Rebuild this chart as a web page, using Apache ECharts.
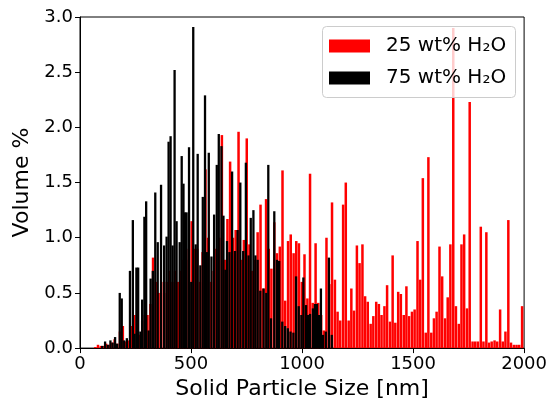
<!DOCTYPE html>
<html><head><meta charset="utf-8">
<script src="https://cdn.jsdelivr.net/npm/echarts@6/dist/echarts.min.js"></script>
<style>html,body{margin:0;padding:0;background:#fff}#c{width:550px;height:405px}</style>
</head><body><div id="c"></div>
<script>
const seriesNames = ['25 wt% H₂O', '75 wt% H₂O'];
const xTicks = [0, 500, 1000, 1500, 2000];
const yTicks = [0.0, 0.5, 1.0, 1.5, 2.0, 2.5, 3.0];

const redSizes = [69, 81, 94, 106, 118, 131, 143, 156, 168, 180, 193, 205, 218, 230, 242, 255, 267, 280, 292, 304, 317, 329, 342, 354, 366, 379, 391, 404, 416, 428, 441, 453, 466, 478, 490, 503, 515, 528, 540, 552, 565, 577, 590, 602, 614, 627, 639, 652, 664, 676, 689, 701, 714, 726, 738, 751, 763, 776, 788, 800, 813, 825, 838, 850, 862, 875, 887, 900, 912, 924, 937, 949, 962, 974, 986, 999, 1011, 1024, 1036, 1048, 1061, 1073, 1086, 1098, 1110, 1123, 1135, 1148, 1160, 1172, 1185, 1197, 1210, 1222, 1234, 1247, 1259, 1272, 1284, 1296, 1309, 1321, 1334, 1346, 1358, 1371, 1383, 1396, 1408, 1420, 1433, 1445, 1458, 1470, 1482, 1495, 1507, 1520, 1532, 1544, 1557, 1569, 1582, 1594, 1606, 1619, 1631, 1644, 1656, 1668, 1681, 1693, 1706, 1718, 1730, 1743, 1755, 1768, 1780, 1792, 1805, 1817, 1830, 1842, 1854, 1867, 1879, 1892, 1904, 1916, 1929, 1941, 1954, 1966, 1978, 1991];
const redValues = [0.01, 0.03, 0.02, 0.02, 0.04, 0.03, 0.05, 0.08, 0.04, 0.15, 0.20, 0.06, 0.07, 0.20, 0.30, 0.30, 0.12, 0.25, 0.30, 0.30, 0.40, 0.82, 0.60, 0.50, 0.60, 0.50, 0.60, 0.70, 0.60, 0.70, 0.60, 0.70, 0.80, 0.80, 0.90, 1.15, 0.90, 0.90, 0.60, 0.87, 1.62, 1.00, 0.60, 0.70, 0.90, 1.00, 1.93, 0.80, 1.17, 1.69, 1.00, 1.07, 1.96, 0.80, 0.98, 1.90, 0.94, 0.70, 0.80, 1.05, 1.30, 0.54, 1.35, 0.90, 0.72, 1.14, 0.86, 0.92, 1.61, 0.43, 0.97, 1.03, 0.86, 0.97, 0.95, 0.60, 0.85, 0.45,
  1.58, 0.41, 0.95, 0.41, 0.30, 0.16, 1.00, 0.58, 1.32, 0.62, 0.33, 0.25, 1.30, 1.50, 0.25, 0.54, 0.34, 0.93, 0.77, 0.94, 0.47, 0.42, 0.22, 0.29, 0.42, 0.40, 0.30, 0.38, 0.57, 0.24, 0.84, 0.23, 0.51, 0.49, 0.30, 0.56, 0.29, 0.33, 0.35, 0.97, 0.62, 1.54, 0.14, 1.73, 0.14, 0.27, 0.33, 0.92, 0.65, 0.27, 0.46, 0.94, 2.90, 0.38, 0.22, 0.94, 1.03, 0.36, 2.23, 0.06, 0.06, 0.06, 1.10, 0.06, 1.05, 0.05, 0.06, 0.07, 0.06, 0.35, 0.06, 0.15, 1.16, 0.05, 0.03, 0.03, 0.03, 0.38];

const blackSizes = [100, 113, 125, 137, 147, 158, 167, 179, 188, 199, 211, 225, 238, 246, 254, 262, 272, 280, 290, 298, 309, 318, 328, 339, 350, 365, 379, 390, 399, 408, 417, 426, 435, 449, 458, 466, 473, 480, 491, 501, 510, 521, 530, 542, 553, 563, 571, 580, 592, 604, 616, 625, 637, 646, 655, 662, 673, 685, 698, 710, 722, 735, 747, 759, 769, 781, 790, 800, 812, 827, 839, 848, 860, 875, 887, 897, 911, 924, 936, 948, 961, 973, 985, 997, 1006, 1018, 1027, 1036, 1049, 1058, 1067, 1076, 1085, 1094, 1107, 1121, 1134];
const blackValues = [0.02, 0.06, 0.03, 0.07, 0.05, 0.10, 0.04, 0.50, 0.45, 0.07, 0.09, 0.70, 1.16, 0.13, 0.73, 0.73, 0.15, 0.44, 1.19, 1.33, 0.16, 0.63, 0.70, 1.41, 0.96, 1.48, 0.93, 1.01, 1.87, 1.92, 0.93, 2.52, 1.15, 0.96, 1.74, 1.49, 1.23, 1.23, 1.82, 0.60, 2.91, 0.94, 1.76, 0.75, 1.37, 2.29, 0.87, 1.77, 0.83, 1.21, 1.66, 1.94, 1.83, 1.20, 0.71, 0.97, 0.87, 1.60, 0.88, 1.07, 1.50, 0.88, 1.68, 0.84, 1.18, 1.25, 0.84, 0.80, 0.52, 0.54, 0.50, 1.66, 0.27, 1.24, 0.80, 0.79, 0.24, 0.20, 0.18, 0.15, 0.14, 0.65, 0.38, 0.30, 0.64, 0.39, 0.30, 0.31, 0.36, 0.40, 0.40, 0.30, 0.54, 0.12, 0.15, 0.82, 0.12];

const font = 'DejaVu Sans';
const chart = echarts.init(document.getElementById('c'), null, {renderer: 'canvas'});
const option = {
  animation: false,
  backgroundColor: '#fff',
  grid: {left: 80, right: 22, top: 17, bottom: 55, show: true, borderColor: '#000', borderWidth: 1, backgroundColor: 'transparent'},
  xAxis: [{
    type: 'value', min: xTicks[0], max: xTicks[xTicks.length - 1], interval: 500,
    name: 'Solid Particle Size [nm]', nameLocation: 'middle', nameGap: 29,
    nameTextStyle: {fontFamily: font, fontSize: 22, color: '#000'},
    axisLine: {show: true, onZero: false, lineStyle: {color: '#000', width: 1}},
    axisTick: {show: true, inside: false, length: 5, lineStyle: {color: '#000', width: 1}},
    axisLabel: {fontFamily: font, fontSize: 18, color: '#000', margin: 7, formatter: v => String(v)},
    splitLine: {show: false}
  }, {
    type: 'value', min: xTicks[0], max: xTicks[xTicks.length - 1], show: false
  }],
  yAxis: {
    type: 'value', min: yTicks[0], max: yTicks[yTicks.length - 1], interval: 0.5,
    name: 'Volume %', nameLocation: 'middle', nameGap: 46, nameRotate: 90,
    nameTextStyle: {fontFamily: font, fontSize: 22, color: '#000'},
    axisLine: {show: true, onZero: false, lineStyle: {color: '#000', width: 1}},
    axisTick: {show: true, inside: false, length: 5, lineStyle: {color: '#000', width: 1}},
    axisLabel: {fontFamily: font, fontSize: 18, color: '#000', margin: 7, formatter: v => v.toFixed(1)},
    splitLine: {show: false}
  },
  graphic: [{
    type: 'rect', z: 100, zlevel: 1, silent: true,
    shape: {x: 322.5, y: 26.5, width: 193, height: 71, r: 4},
    style: {fill: 'rgba(255,255,255,0.8)', stroke: '#cccccc', lineWidth: 1}
  }],
  legend: {
    z: 200, zlevel: 2,
    orient: 'vertical', left: 322, top: 26,
    padding: [10, 9, 10, 7], itemGap: 12, itemWidth: 41, itemHeight: 13,
    backgroundColor: 'transparent', borderWidth: 0,
    icon: 'rect',
    itemStyle: {borderWidth: 0},
    textStyle: {fontFamily: font, fontSize: 20, color: '#000', padding: [0, 0, 0, 11]},
    data: seriesNames
  },
  series: [{
    type: 'bar', name: seriesNames[0], xAxisIndex: 0, barWidth: 2.5, z: 2,
    data: redSizes.map((s, i) => [s, redValues[i]]),
    itemStyle: {color: '#ff0000'}
  }, {
    type: 'bar', name: seriesNames[1], xAxisIndex: 1, barWidth: 2.3, z: 2,
    data: blackSizes.map((s, i) => [s, blackValues[i]]),
    itemStyle: {color: '#000000'}
  }]
};
chart.setOption(option);
</script></body></html>
